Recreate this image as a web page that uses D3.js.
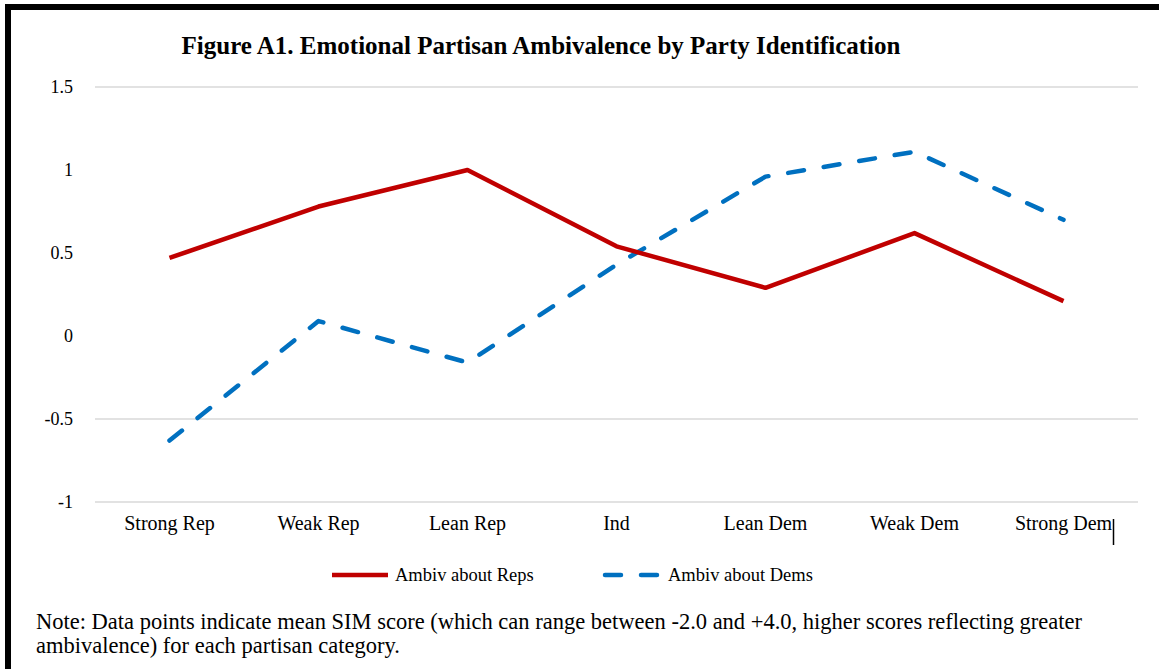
<!DOCTYPE html>
<html><head><meta charset="utf-8">
<script src="https://cdn.jsdelivr.net/npm/d3@7"></script>
<style>
html,body{margin:0;padding:0;background:#fff;}
svg{display:block;}
text{font-family:"Liberation Serif","DejaVu Serif",serif;fill:#000;}
</style></head>
<body>
<svg id="chart" width="1159" height="669"></svg>
<script>
const categories = ["Strong Rep","Weak Rep","Lean Rep","Ind","Lean Dem","Weak Dem","Strong Dem"];
const ambivReps = [0.47, 0.78, 1.00, 0.54, 0.29, 0.62, 0.21];
const ambivDems = [-0.63, 0.09, -0.16, 0.43, 0.96, 1.11, 0.70];
const yTicks = [-1, -0.5, 0, 0.5, 1, 1.5];
const gridTicks = [-1, -0.5, 1.5];
const seriesNames = ["Ambiv about Reps", "Ambiv about Dems"];
const titleText = "Figure A1. Emotional Partisan Ambivalence by Party Identification";
const noteLines = ["Note: Data points indicate mean SIM score (which can range between -2.0 and +4.0, higher scores reflecting greater",
                   "ambivalence) for each partisan category."];

const svg = d3.select("#chart");
const W = 1159, H = 669;
svg.append("rect").attr("width", W).attr("height", H).attr("fill", "#fff");
// frame (top and left)
svg.append("rect").attr("x", 5).attr("y", 4).attr("width", W - 5).attr("height", 6).attr("fill", "#000");
svg.append("rect").attr("x", 5).attr("y", 4).attr("width", 6).attr("height", H - 4).attr("fill", "#000");

const x = d3.scaleBand().domain(categories).range([95, 1138]);
const y = d3.scaleLinear().domain([-1, 1.5]).range([502, 87]);

// gridlines
svg.append("g").selectAll("line").data(gridTicks).join("line")
  .attr("x1", 95).attr("x2", 1138)
  .attr("y1", d => y(d)).attr("y2", d => y(d))
  .attr("stroke", "#d9d9d9").attr("stroke-width", 1.5);

// y axis labels
const yAxis = d3.axisLeft(y).tickValues(yTicks).tickSize(0).tickPadding(0)
  .tickFormat(d => String(d));
const gy = svg.append("g").attr("transform", "translate(73,0)").call(yAxis);
gy.select(".domain").remove();
gy.selectAll("text").attr("font-family", "Liberation Serif").attr("font-size", 18).attr("fill", "#000");

// x axis labels
const xAxis = d3.axisBottom(x).tickSize(0).tickPadding(0);
const gx = svg.append("g").attr("transform", "translate(0,516)").call(xAxis);
gx.select(".domain").remove();
gx.selectAll("text").attr("font-family", "Liberation Serif").attr("font-size", 20).attr("fill", "#000");
// text cursor artifact after last label
svg.append("line").attr("x1", 1113.5).attr("x2", 1113.5).attr("y1", 519).attr("y2", 545)
  .attr("stroke", "#000").attr("stroke-width", 1.5);

const line = d3.line().x((d, i) => x(categories[i]) + x.bandwidth() / 2).y(d => y(d));

svg.append("path").datum(ambivDems).attr("d", line)
  .attr("fill", "none").attr("stroke", "#0070C0").attr("stroke-width", 4.5)
  .attr("stroke-dasharray", "16,20").attr("stroke-linecap", "round").attr("stroke-linejoin", "round");
svg.append("path").datum(ambivReps).attr("d", line)
  .attr("fill", "none").attr("stroke", "#C00000").attr("stroke-width", 4.5)
  .attr("stroke-linejoin", "round");

// title
svg.append("text").attr("x", 541).attr("y", 54).attr("text-anchor", "middle")
  .attr("font-size", 25).attr("font-weight", "bold").text(titleText);

// legend
const lg = svg.append("g");
lg.append("line").attr("x1", 332).attr("x2", 388).attr("y1", 575).attr("y2", 575)
  .attr("stroke", "#C00000").attr("stroke-width", 4.5);
lg.append("text").attr("x", 395).attr("y", 581).attr("font-size", 18.5).text(seriesNames[0]);
lg.append("line").attr("x1", 605).attr("x2", 660).attr("y1", 575).attr("y2", 575)
  .attr("stroke", "#0070C0").attr("stroke-width", 4.5).attr("stroke-linecap", "round")
  .attr("stroke-dasharray", "16,20");
lg.append("text").attr("x", 668).attr("y", 581).attr("font-size", 18.5).text(seriesNames[1]);

// note
svg.append("g").selectAll("text").data(noteLines).join("text")
  .attr("x", 36).attr("y", (d, i) => 629 + i * 24)
  .attr("font-size", 22.5).text(d => d);
</script>
</body></html>
